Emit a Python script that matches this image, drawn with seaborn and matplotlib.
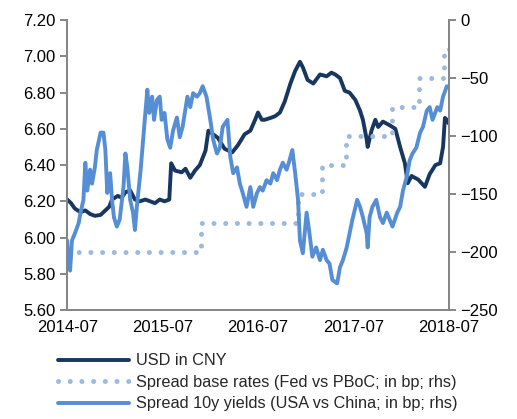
import numpy as np
import pandas as pd
import matplotlib
matplotlib.use('Agg')
import matplotlib.pyplot as plt
import seaborn as sns

# USD in CNY (lhs), time as years after 2014-07
usd_t = [0.00, 0.04, 0.08, 0.14, 0.19, 0.24, 0.29, 0.35, 0.40, 0.44, 0.47, 0.53, 0.57, 0.61,
         0.66, 0.71, 0.76, 0.82, 0.87, 0.92, 0.97, 1.02, 1.07, 1.09, 1.13, 1.20, 1.24, 1.29,
         1.34, 1.39, 1.45, 1.48, 1.53, 1.58, 1.65, 1.73, 1.79, 1.86, 1.92, 1.97, 2.00, 2.04,
         2.07, 2.13, 2.18, 2.23, 2.28, 2.34, 2.39, 2.44, 2.47, 2.52, 2.58, 2.65, 2.72, 2.77,
         2.81, 2.86, 2.91, 2.96, 3.02, 3.07, 3.10, 3.14, 3.15, 3.19, 3.23, 3.26, 3.31, 3.38,
         3.44, 3.49, 3.54, 3.57, 3.61, 3.68, 3.75, 3.80, 3.86, 3.91, 3.94, 3.96, 3.98, 4.00]
usd_cny = [6.21, 6.19, 6.16, 6.14, 6.15, 6.13, 6.12, 6.125, 6.15, 6.17, 6.21, 6.23, 6.22, 6.25,
           6.26, 6.21, 6.20, 6.21, 6.20, 6.19, 6.21, 6.20, 6.21, 6.41, 6.37, 6.36, 6.38, 6.33,
           6.37, 6.40, 6.48, 6.59, 6.57, 6.55, 6.49, 6.47, 6.51, 6.57, 6.59, 6.65, 6.69, 6.65,
           6.65, 6.66, 6.67, 6.69, 6.75, 6.85, 6.92, 6.97, 6.94, 6.87, 6.85, 6.90, 6.89, 6.91,
           6.90, 6.88, 6.81, 6.80, 6.76, 6.70, 6.65, 6.54, 6.50, 6.59, 6.65, 6.61, 6.64, 6.62,
           6.60, 6.50, 6.41, 6.30, 6.34, 6.32, 6.28, 6.35, 6.40, 6.41, 6.50, 6.66, 6.65, 6.63]

# Spread base rates (Fed vs PBoC; bp; rhs), step changes
base_t = [0.00, 1.40, 2.42, 2.67, 2.92, 3.41, 3.69, 3.95, 4.00]
base_bp = [-200, -175, -150, -125, -100, -75, -50, -25, -25]

# Spread 10y yields (USA vs China; bp; rhs)
y10_t = [0.00, 0.01, 0.03, 0.05, 0.08, 0.12, 0.14, 0.17, 0.19, 0.21, 0.24, 0.26, 0.29, 0.31,
         0.35, 0.38, 0.40, 0.42, 0.45, 0.47, 0.49, 0.52, 0.55, 0.59, 0.61, 0.63, 0.66, 0.69,
         0.71, 0.73, 0.77, 0.81, 0.84, 0.86, 0.89, 0.91, 0.94, 0.97, 0.99, 1.02, 1.05, 1.08,
         1.11, 1.15, 1.18, 1.21, 1.26, 1.29, 1.32, 1.36, 1.39, 1.42, 1.46, 1.50, 1.53, 1.57,
         1.60, 1.63, 1.68, 1.71, 1.74, 1.78, 1.81, 1.84, 1.88, 1.92, 1.95, 1.99, 2.02, 2.05,
         2.09, 2.13, 2.16, 2.20, 2.23, 2.26, 2.30, 2.33, 2.36, 2.39, 2.42, 2.44, 2.47, 2.51,
         2.54, 2.57, 2.61, 2.65, 2.68, 2.72, 2.75, 2.78, 2.83, 2.86, 2.89, 2.93, 2.96, 2.99,
         3.04, 3.07, 3.10, 3.14, 3.15, 3.17, 3.20, 3.24, 3.28, 3.31, 3.35, 3.38, 3.41, 3.46,
         3.49, 3.52, 3.56, 3.59, 3.62, 3.66, 3.70, 3.73, 3.77, 3.80, 3.83, 3.88, 3.91, 3.94, 3.98]
y10_bp = [-190, -207, -216, -190, -184, -175, -166, -155, -123, -147, -129, -141, -127, -112,
          -97, -97, -112, -149, -132, -155, -170, -178, -172, -144, -115, -127, -155, -166,
          -181, -161, -129, -89, -60, -80, -66, -86, -69, -66, -86, -80, -103, -110,
          -95, -84, -101, -92, -66, -75, -63, -66, -63, -57, -66, -86, -103, -115,
          -110, -92, -86, -118, -132, -127, -141, -149, -161, -144, -161, -149, -144, -147,
          -138, -141, -132, -138, -129, -123, -129, -121, -112, -132, -155, -190, -201, -166,
          -184, -204, -196, -207, -198, -207, -210, -224, -227, -213, -207, -196, -184, -172,
          -155, -161, -170, -184, -196, -170, -161, -155, -170, -175, -166, -172, -178, -166,
          -161, -147, -135, -121, -115, -110, -97, -92, -78, -75, -86, -75, -78, -66, -57]

xtick_labels = ['2014-07', '2015-07', '2016-07', '2017-07', '2018-07']

usd = pd.DataFrame({'t': np.array(usd_t) + 2014.5, 'v': usd_cny})
base = pd.DataFrame({'t': np.array(base_t) + 2014.5, 'v': base_bp})
y10 = pd.DataFrame({'t': np.array(y10_t) + 2014.5, 'v': y10_bp})

sns.set_style('white')
plt.rcParams['font.family'] = ['Liberation Sans', 'DejaVu Sans']

fig = plt.figure(figsize=(5.17, 4.19), dpi=100)
ax = fig.add_axes([0.130, 0.260, 0.738, 0.692])
ax2 = ax.twinx()

grey = '#868686'
sns.lineplot(data=usd, x='t', y='v', ax=ax, color='#17375E', lw=2.8,
             label='USD in CNY', legend=False)
sns.lineplot(data=base, x='t', y='v', ax=ax2, color='#9DB9DC', lw=3.6,
             drawstyle='steps-post', linestyle=(0, (0.01, 2.33)),
             dash_capstyle='round', label='Spread base rates (Fed vs PBoC; in bp; rhs)',
             legend=False)
sns.lineplot(data=y10, x='t', y='v', ax=ax2, color='#558ED5', lw=2.8,
             label='Spread 10y yields (USA vs China; in bp; rhs)', legend=False)

ax.set_xlim(2014.5, 2018.5)
ax.set_ylim(5.6, 7.2)
ax2.set_ylim(-250, 0)
ax.set_yticks(np.arange(5.6, 7.21, 0.2))
ax.set_yticklabels(['%.2f' % v for v in np.arange(5.6, 7.21, 0.2)])
ax2.set_yticks(range(-250, 1, 50))
ax.set_xticks([2014.5, 2015.5, 2016.5, 2017.5, 2018.5])
ax.set_xticklabels(xtick_labels)
ax.set_xlabel('')
ax.set_ylabel('')
ax2.set_xlabel('')
ax2.set_ylabel('')

for a in (ax, ax2):
    for s in a.spines.values():
        s.set_color(grey)
        s.set_linewidth(1.4)
    a.spines['top'].set_visible(False)
    a.tick_params(colors=grey, labelcolor='black', labelsize=12, width=1.4, length=5)
ax.tick_params(axis='x', direction='inout', length=8, pad=3)

h1, l1 = ax.get_legend_handles_labels()
h2, l2 = ax2.get_legend_handles_labels()
fig.legend(h1 + h2, l1 + l2, loc='upper left', bbox_to_anchor=(0.096, 0.176),
           frameon=False, fontsize=11.7, handlelength=4.4, handletextpad=0.4,
           labelspacing=0.4, borderpad=0)

fig.savefig('out.png', dpi=100)
